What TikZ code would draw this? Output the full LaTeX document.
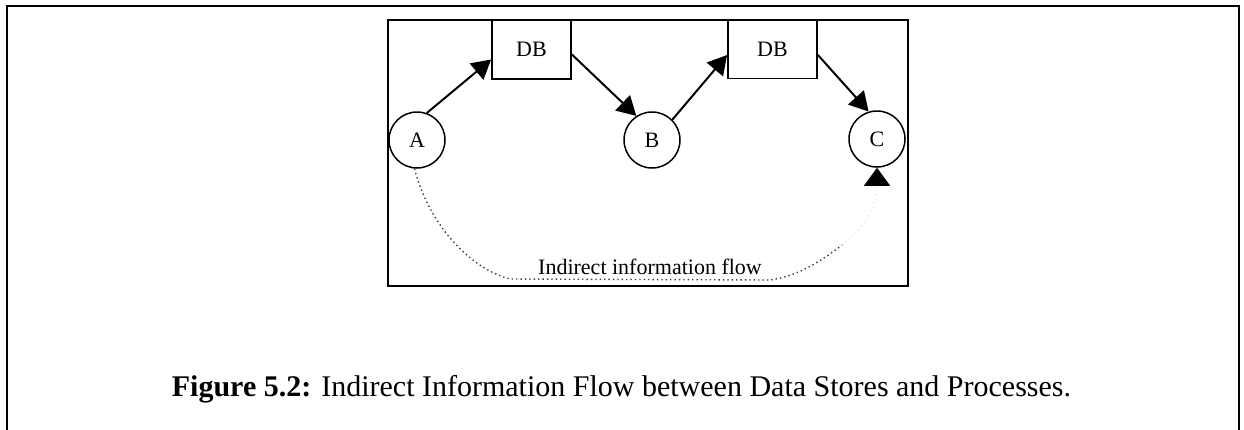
\documentclass[tikz,border=0pt]{standalone}
\usepackage{fontspec}
\setmainfont{Liberation Serif}
\usetikzlibrary{arrows.meta}
\begin{document}
\begin{tikzpicture}[x=1pt,y=-1pt,
  frame/.style={line width=2pt},
  proc/.style={circle,draw,line width=1.5pt,minimum size=56pt,inner sep=0pt,
    font=\fontsize{22}{26}\selectfont},
  store/.style={draw,line width=1.8pt,minimum height=59pt,inner sep=0pt,
    font=\fontsize{22}{26}\selectfont},
  flowarrow/.style={line width=2pt,-{Triangle[length=19pt,width=21pt]}},
  indirect/.style={line width=1.4pt,dash pattern=on 1.4pt off 3pt,black!75},
]
\useasboundingbox (0,0) rectangle (1244,429);

% page frame, open at the bottom
\draw[frame] (7,440) -- (7,6) -- (1239,6) -- (1239,440);

% diagram panel
\draw[frame,line width=1.8pt] (388,20) rectangle (908,286);

% data stores
\node[store,minimum width=79pt] (db1) at (531.5,49.5) {DB};
\node[store,minimum width=89pt] (db2) at (772.5,49) {DB};

% processes
\node[proc] (A) at (417,140) {A};
\node[proc] (B) at (652,140) {B};
\node[proc] (C) at (877,139) {C};

% direct flows
\draw[flowarrow] (A.70) -- ([yshift=-10pt]db1.west);
\draw[flowarrow] ([yshift=-5pt]db1.east) -- (B.123);
\draw[flowarrow] (B.45) -- ([yshift=-6pt]db2.west);
\draw[flowarrow] ([yshift=-6pt]db2.east) -- (C.107);

% indirect flow from A to C
\coordinate (bend) at (842,245);
\draw[indirect] (A.265) .. controls (428,222) and (468,268) .. (510,279)
  -- (770,280) .. controls (800,276) and (825,258) .. (bend);
\draw[indirect,black!8,-{Triangle[length=18pt,width=26pt,color=black]}]
  (bend) .. controls (868,225) and (877,205) .. (C.south);
\node[anchor=base,font=\fontsize{22}{26}\selectfont] (lbl) at (650,274)
  {Indirect information flow};

% caption
\node[anchor=base,font=\fontsize{30}{36}\selectfont] (cap) at (621.5,396)
  {\textbf{Figure 5.2:} Indirect Information Flow between Data Stores and Processes.};
\end{tikzpicture}
\end{document}
